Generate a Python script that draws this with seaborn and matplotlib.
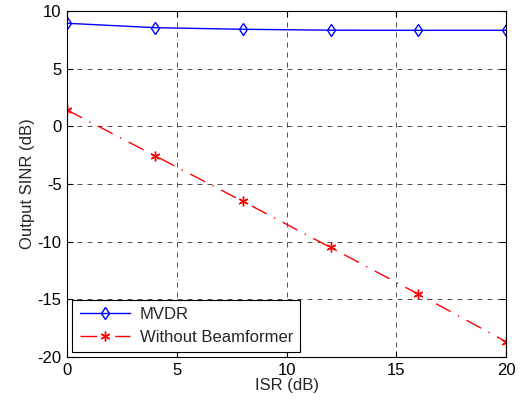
import matplotlib
matplotlib.use("Agg")
import matplotlib.pyplot as plt
import seaborn as sns
import pandas as pd

sns.set_theme(style="ticks")
plt.rcParams['font.family'] = ['Liberation Sans', 'DejaVu Sans']
plt.rcParams['axes.unicode_minus'] = False

isr = [0, 4, 8, 12, 16, 20]
mvdr = [8.93, 8.55, 8.41, 8.33, 8.32, 8.32]
no_bf = [1.41, -2.55, -6.5, -10.5, -14.55, -18.68]

df = pd.DataFrame({"isr": isr, "MVDR": mvdr, "Without Beamformer": no_bf})

fig = plt.figure(figsize=(5.24, 4.05), dpi=100)
ax = fig.add_axes([0.128, 0.1185, 0.838, 0.8545])

sns.lineplot(data=df, x="isr", y="MVDR", ax=ax, color="blue", lw=1,
             marker="d", markersize=6.5, markerfacecolor="none",
             markeredgecolor="blue", markeredgewidth=1, label="MVDR")
sns.lineplot(data=df, x="isr", y="Without Beamformer", ax=ax, color="red", lw=1,
             linestyle=(0, (12, 6, 1, 6)), marker=(6, 2, 0), markersize=7,
             markeredgecolor="red", markeredgewidth=1, label="Without Beamformer")

ax.set_xlim(0, 20)
ax.set_ylim(-20, 10)
ax.set_xticks([0, 5, 10, 15, 20])
ax.set_yticks([-20, -15, -10, -5, 0, 5, 10])
ax.grid(True, color="black", linestyle=(0, (6, 6)), linewidth=0.6, alpha=0.8)
ax.tick_params(direction="in", length=4, labelsize=12, color="black", width=0.8,
               top=True, right=True, labelcolor="black", pad=4)
for s in ax.spines.values():
    s.set_color("black")
    s.set_linewidth(0.8)
ax.set_xlabel("ISR (dB)", fontsize=12, labelpad=0)
ax.set_ylabel("Output SINR (dB)", fontsize=12, labelpad=2)

leg = ax.legend(loc="lower left", fontsize=12, frameon=True, fancybox=False,
                edgecolor="black", framealpha=1, borderaxespad=0.3,
                handlelength=3.0, borderpad=0.45, labelspacing=0.45,
                handletextpad=0.6)
leg.get_frame().set_linewidth(0.8)

fig.savefig("out.png", dpi=100)
